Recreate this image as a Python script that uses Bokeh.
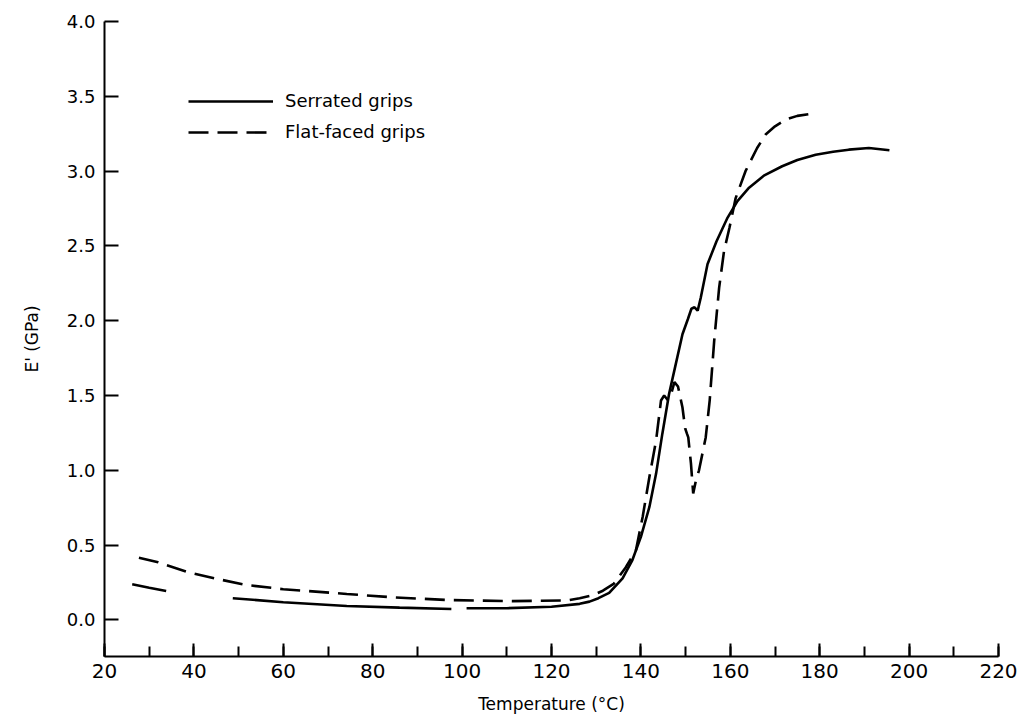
import math
from bokeh.plotting import figure
from bokeh.models import Range1d, SingleIntervalTicker, NumeralTickFormatter, Legend, LegendItem
from bokeh.embed import file_html
from bokeh.resources import INLINE

# ---- data ----
NaN = float("nan")
serrated_temp = [26.2, 30.0, 33.8, NaN,
                 48.7, 60.0, 74.2, 86.0, 97.6, NaN,
                 101.0, 110.0, 120.0, 126.3, 128.5, 130.5, 132.9, 135.9, 138.1, 140.0,
                 141.9, 143.4, 144.8, 146.3, 147.8, 149.3, 150.5, 151.3, 152.0, 152.7,
                 153.4, 154.9, 156.9, 159.4, 161.6, 164.2, 167.5, 171.6, 175.0, 179.1,
                 183.0, 186.5, 191.0, 195.6]
serrated_E = [0.238, 0.215, 0.193, NaN,
              0.145, 0.118, 0.093, 0.082, 0.073, NaN,
              0.078, 0.078, 0.088, 0.107, 0.122, 0.145, 0.180, 0.278, 0.400, 0.555,
              0.755, 0.978, 1.245, 1.510, 1.710, 1.910, 2.010, 2.080, 2.090, 2.067,
              2.155, 2.378, 2.530, 2.690, 2.800, 2.890, 2.970, 3.033, 3.075, 3.110,
              3.130, 3.144, 3.155, 3.140]

flat_temp = [27.7, 32.0, 38.5, 45.0, 51.8, 60.0, 74.2, 85.0, 96.5, 111.3,
             123.5, 126.3, 129.1, 131.5, 133.9, 136.6, 138.9, 140.4, 141.9, 143.4,
             144.5, 145.2, 146.0, 146.5, 147.5, 148.3, 149.3, 149.9, 150.3, 150.6,
             151.2, 151.7, 152.3, 153.0, 154.5, 155.4, 156.4, 157.5, 158.6, 159.8,
             161.2, 163.4, 166.0, 167.9, 170.0, 172.4, 175.0, 177.6]
flat_E = [0.415, 0.385, 0.320, 0.275, 0.233, 0.205, 0.173, 0.150, 0.133, 0.125,
          0.130, 0.145, 0.163, 0.195, 0.240, 0.350, 0.467, 0.690, 0.955, 1.200,
          1.467, 1.500, 1.470, 1.480, 1.590, 1.560, 1.420, 1.280, 1.245, 1.220,
          1.045, 0.845, 0.930, 1.000, 1.220, 1.470, 1.867, 2.220, 2.467, 2.620,
          2.820, 3.000, 3.155, 3.245, 3.300, 3.345, 3.370, 3.382]

x_label = "Temperature (°C)"
y_label = "E' (GPa)"
legend_labels = ["Serrated grips", "Flat-faced grips"]

FONT = "DejaVu Sans"

p = figure(width=1023, height=716, output_backend="svg", toolbar_location=None,
           x_range=Range1d(20, 220), y_range=Range1d(-0.245, 4.001),
           min_border_left=104, min_border_right=25, min_border_top=21, min_border_bottom=60)
p.outline_line_color = None
p.xgrid.grid_line_color = None
p.ygrid.grid_line_color = None

r1 = p.line(serrated_temp, serrated_E, line_color="black", line_width=2.6)
r2 = p.line(flat_temp, flat_E, line_color="black", line_width=2.6, line_dash="20 9")

# x axis
xa = p.xaxis[0]
xa.ticker = SingleIntervalTicker(interval=20, num_minor_ticks=2)
xa.axis_line_width = 2
xa.axis_line_color = "black"
xa.major_tick_in = 13
xa.major_tick_out = 0
xa.minor_tick_in = 10
xa.minor_tick_out = 0
xa.major_tick_line_width = 2
xa.minor_tick_line_width = 2
xa.major_label_text_font = FONT
xa.major_label_text_font_size = "20px"
xa.major_label_text_color = "black"
xa.major_label_standoff = 7
xa.axis_label = x_label
xa.axis_label_text_font = FONT
xa.axis_label_text_font_size = "17px"
xa.axis_label_text_font_style = "normal"
xa.axis_label_text_color = "black"
xa.axis_label_standoff = 13

# y axis
ya = p.yaxis[0]
ya.ticker = SingleIntervalTicker(interval=0.5, num_minor_ticks=0)
ya.formatter = NumeralTickFormatter(format="0.0")
ya.axis_line_width = 2
ya.axis_line_color = "black"
ya.major_tick_in = 14
ya.major_tick_out = 0
ya.minor_tick_in = 0
ya.minor_tick_out = 0
ya.major_tick_line_width = 2
ya.major_label_text_font = FONT
ya.major_label_text_font_size = "18px"
ya.major_label_text_color = "black"
ya.major_label_standoff = 9
ya.axis_label = y_label
ya.axis_label_text_font = FONT
ya.axis_label_text_font_size = "17px"
ya.axis_label_text_font_style = "normal"
ya.axis_label_text_color = "black"
ya.axis_label_standoff = 22

legend = Legend(items=[LegendItem(label=legend_labels[0], renderers=[r1]),
                       LegendItem(label=legend_labels[1], renderers=[r2])],
                location=(84, 514), glyph_width=85, glyph_height=20,
                label_standoff=12, spacing=10, padding=0, margin=0,
                border_line_color=None, background_fill_alpha=0,
                label_text_font=FONT, label_text_font_size="18px",
                label_text_color="black")
p.add_layout(legend, "center")

open("out.html", "w").write(file_html(p, INLINE))
